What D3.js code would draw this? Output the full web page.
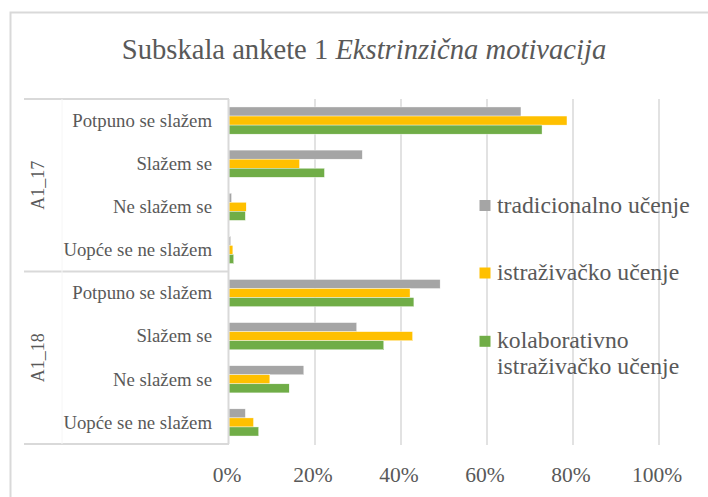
<!DOCTYPE html>
<html><head><meta charset="utf-8">
<script src="https://cdn.jsdelivr.net/npm/d3@7"></script>
<style>
html,body{margin:0;padding:0;background:#fff;}
svg{display:block;}
</style></head>
<body>
<svg id="chart" width="708" height="497"></svg>
<script>
const groups = ["A1_17", "A1_18"];
const answers = ["Potpuno se slažem", "Slažem se", "Ne slažem se", "Uopće se ne slažem"];
const seriesNames = ["tradicionalno učenje", "istraživačko učenje", "kolaborativno istraživačko učenje"];
const tradicionalno = [67.9, 31.0, 0.6, 0.4, 49.1, 29.7, 17.4, 3.8];
const istrazivacko = [78.6, 16.4, 4.0, 0.9, 42.1, 42.7, 9.5, 5.7];
const kolaborativno = [72.8, 22.2, 3.8, 1.1, 43.0, 36.0, 14.0, 6.9];
const xTicks = [0, 20, 40, 60, 80, 100];
const colors = ["#A5A5A5", "#FFC000", "#70AD47"];
const legendLines = [["tradicionalno učenje"], ["istraživačko učenje"], ["kolaborativno", "istraživačko učenje"]];

const FONT = "'Liberation Serif', 'Times New Roman', Tinos, 'DejaVu Serif', serif";
const seriesData = [tradicionalno, istrazivacko, kolaborativno];
const rows = [];
groups.forEach(g => answers.forEach(a => rows.push(g + "|" + a)));

const svg = d3.select("#chart");
const grid = "#d9d9d9";

// outer border
svg.append("rect").attr("x", 10.5).attr("y", 12.5).attr("width", 720).attr("height", 500)
  .attr("fill", "none").attr("stroke", grid).attr("stroke-width", 2);

function txt(sel) {
  return sel.attr("font-family", FONT).style("font-family", FONT).attr("fill", "#595959");
}

// title
const title = txt(svg.append("text")).attr("x", 364).attr("y", 59).attr("text-anchor", "middle")
  .style("font-size", "28.6px");
title.append("tspan").text("Subskala ankete 1 ");
title.append("tspan").style("font-style", "italic").text("Ekstrinzična motivacija");

const plotTop = 99, plotBottom = 444;
const x = d3.scaleLinear().domain([0, 100]).range([229, 659]);
const y0 = d3.scaleBand().domain(rows).range([plotTop, plotBottom]);
const bw = y0.bandwidth();
const barBlock = bw * 0.63;
const y1 = d3.scaleBand().domain(d3.range(3)).range([(bw - barBlock) / 2, (bw + barBlock) / 2]);

// gridlines
svg.append("g").selectAll("line").data(xTicks.slice(1)).join("line")
  .attr("x1", d => x(d)).attr("x2", d => x(d))
  .attr("y1", plotTop).attr("y2", plotBottom + 1)
  .attr("stroke", grid).attr("stroke-width", 1.5);

// x axis labels
txt(svg.append("g").selectAll("text").data(xTicks).join("text"))
  .attr("x", d => x(d) - 2).attr("y", 481.5).attr("text-anchor", "middle")
  .style("font-size", "21.5px").text(d => d + "%");

// bars
const barG = svg.append("g");
seriesData.forEach((vals, si) => {
  barG.append("g").selectAll("rect").data(vals).join("rect")
    .attr("x", x(0))
    .attr("y", (d, i) => y0(rows[i]) + y1(si))
    .attr("width", d => x(d) - x(0))
    .attr("height", y1.bandwidth())
    .attr("fill", colors[si])
    .attr("stroke", "#fff").attr("stroke-width", 0.4);
});

// category axis box
const axisG = svg.append("g").attr("stroke", grid).attr("stroke-width", 2).attr("fill", "none");
const groupEdges = [plotTop].concat(groups.map((g, gi) => y0(g + "|" + answers[answers.length - 1]) + bw));
groupEdges.forEach(yy => {
  axisG.append("line").attr("x1", 24).attr("x2", 229).attr("y1", yy).attr("y2", yy);
});
axisG.append("line").attr("x1", 228.5).attr("x2", 228.5).attr("y1", plotTop).attr("y2", plotBottom);
svg.append("line").attr("x1", 62).attr("x2", 62).attr("y1", plotTop).attr("y2", plotBottom)
  .attr("stroke", "#f6f6f6").attr("stroke-width", 1);

// category labels
txt(svg.append("g").selectAll("text").data(rows).join("text"))
  .attr("x", 212).attr("y", d => y0(d) + bw / 2).attr("dy", "0.33em")
  .attr("text-anchor", "end").style("font-size", "18.8px")
  .text(d => d.split("|")[1]);

// group labels
txt(svg.append("g").selectAll("text").data(groups).join("text"))
  .attr("transform", g => {
    const top = y0(g + "|" + answers[0]);
    const bot = y0(g + "|" + answers[answers.length - 1]) + bw;
    return `translate(43.5,${(top + bot) / 2}) rotate(-90)`;
  })
  .attr("text-anchor", "middle").style("font-size", "18px").text(g => g);

// legend
const legY = [212.5, 280, 348.3];
const leg = svg.append("g");
legendLines.forEach((lines, i) => {
  leg.append("rect").attr("x", 479.5).attr("y", legY[i] - 12.5).attr("width", 11).attr("height", 11)
    .attr("fill", colors[i]);
  const t = txt(leg.append("text")).attr("x", 497).attr("y", legY[i]).style("font-size", "23.7px");
  lines.forEach((ln, li) => {
    t.append("tspan").attr("x", 497).attr("dy", li === 0 ? 0 : 26).text(ln);
  });
});
</script>
</body></html>
